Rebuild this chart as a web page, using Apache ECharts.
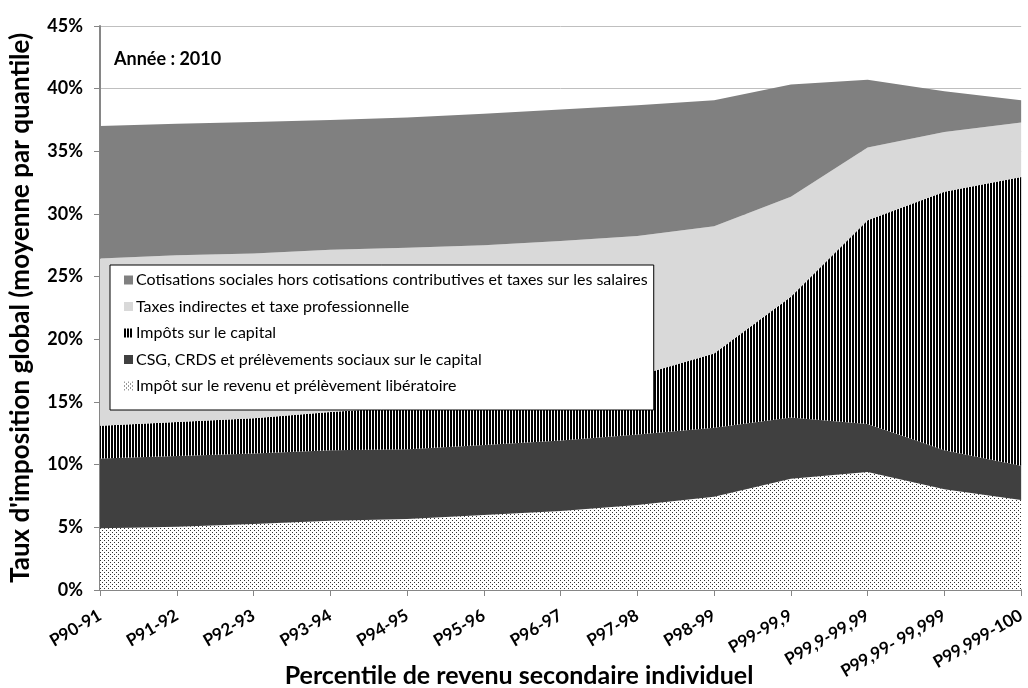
<!DOCTYPE html>
<html>
<head>
<meta charset="utf-8">
<script src="https://cdn.jsdelivr.net/npm/echarts@6/dist/echarts.min.js"></script>
<style>html,body{margin:0;padding:0;background:#fff}#c{width:1028px;height:688px}</style>
</head>
<body>
<div id="c"></div>
<script>
const categories = ['P90-91','P91-92','P92-93','P93-94','P94-95','P95-96','P96-97','P97-98','P98-99','P99-99,9','P99,9-99,99','P99,99- 99,999','P99,999-100'];
const seriesNames = [
  'Impôt sur le revenu et prélèvement libératoire',
  'CSG, CRDS et prélèvements sociaux sur le capital',
  'Impôts sur le capital',
  'Taxes indirectes et taxe professionnelle',
  'Cotisations sociales hors cotisations contributives et taxes sur les salaires'
];
const impotRevenu = [4.92, 5.05, 5.26, 5.53, 5.66, 5.98, 6.30, 6.78, 7.44, 8.88, 9.41, 8.03, 7.18];
const csgCrds = [5.58, 5.64, 5.64, 5.63, 5.58, 5.58, 5.62, 5.62, 5.50, 4.89, 3.83, 3.13, 2.73];
const impotsCapital = [2.60, 2.71, 2.80, 3.04, 3.36, 3.54, 3.98, 4.70, 5.93, 9.63, 16.26, 20.61, 23.05];
const taxesIndirectes = [13.35, 13.30, 13.15, 12.95, 12.70, 12.40, 11.95, 11.15, 10.16, 7.97, 5.80, 4.78, 4.34];
const cotisations = [10.58, 10.50, 10.50, 10.35, 10.40, 10.50, 10.48, 10.43, 10.04, 8.96, 5.42, 3.25, 1.77];
const yTicks = [0, 5, 10, 15, 20, 25, 30, 35, 40, 45];

function stripePattern(){
  const c = document.createElement('canvas'); c.width = 3; c.height = 4;
  const x = c.getContext('2d');
  x.fillStyle = '#fff'; x.fillRect(0,0,3,4);
  x.fillStyle = '#000'; x.fillRect(0,0,2,4);
  return {image: c, repeat: 'repeat'};
}
function dotPattern(){
  const c = document.createElement('canvas'); c.width = 4; c.height = 4;
  const x = c.getContext('2d');
  x.fillStyle = '#fff'; x.fillRect(0,0,4,4);
  x.fillStyle = '#333'; x.fillRect(0,0,1,1); x.fillRect(2,2,1,1);
  return {image: c, repeat: 'repeat'};
}
const fills = [dotPattern(), '#404040', stripePattern(), '#d9d9d9', '#808080'];
const dataSets = [impotRevenu, csgCrds, impotsCapital, taxesIndirectes, cotisations];

const FONT = 'Lato, "Open Sans", sans-serif';
const chart = echarts.init(document.getElementById('c'), null, {renderer: 'canvas'});
chart.setOption({
  animation: false,
  backgroundColor: '#fff',
  textStyle: {fontFamily: FONT},
  title: {
    text: 'Année : 2010', left: 109, top: 45,
    textStyle: {fontFamily: FONT, fontWeight: 'bold', fontSize: 18, color: '#000'}
  },
  graphic: [{
    type: 'text', x: 519, y: 663,
    style: {text: 'Percentile de revenu secondaire individuel', font: 'bold 25px ' + FONT, fill: '#000', align: 'center'}
  }],
  legend: {
    orient: 'vertical', left: 110, top: 265,
    backgroundColor: '#fff', borderColor: '#000', borderWidth: 1,
    padding: [7, 6, 16, 14], itemGap: 10.5, itemWidth: 9, itemHeight: 9, icon: 'rect',
    textStyle: {fontFamily: FONT, fontSize: 16, color: '#000', padding: [0,0,0,-2]},
    data: seriesNames.slice().reverse()
  },
  grid: {left: 98, right: 3, top: 26, bottom: 98, containLabel: false},
  xAxis: {
    type: 'category', data: categories, boundaryGap: false,
    axisLine: {lineStyle: {color: '#868686', width: 2}},
    axisTick: {show: true, length: 6, lineStyle: {color: '#868686', width: 1}},
    axisLabel: {rotate: 30, fontFamily: FONT, fontWeight: 'bold', fontSize: 17, color: '#000', margin: 24, interval: 0},
    splitLine: {show: false}
  },
  yAxis: {
    type: 'value', min: 0, max: 45, interval: 5,
    name: "Taux d'imposition global (moyenne par quantile)", nameLocation: 'middle', nameGap: 66, nameRotate: 90,
    nameTextStyle: {fontFamily: FONT, fontWeight: 'bold', fontSize: 26, color: '#000'},
    axisLine: {show: true, lineStyle: {color: '#868686', width: 2}},
    axisTick: {show: true, length: 6, lineStyle: {color: '#868686'}},
    axisLabel: {formatter: '{value}%', fontFamily: FONT, fontWeight: 'bold', fontSize: 18, color: '#000', margin: 17},
    splitLine: {lineStyle: {color: '#bfbfbf', width: 1}}
  },
  series: dataSets.map((d, i) => ({
    name: seriesNames[i], type: 'line', stack: 'total', data: d,
    symbol: 'none', showSymbol: false,
    lineStyle: {width: 0, opacity: 0},
    itemStyle: {color: fills[i]},
    areaStyle: {color: fills[i], opacity: 1},
    emphasis: {disabled: true}
  }))
});
</script>
</body>
</html>
